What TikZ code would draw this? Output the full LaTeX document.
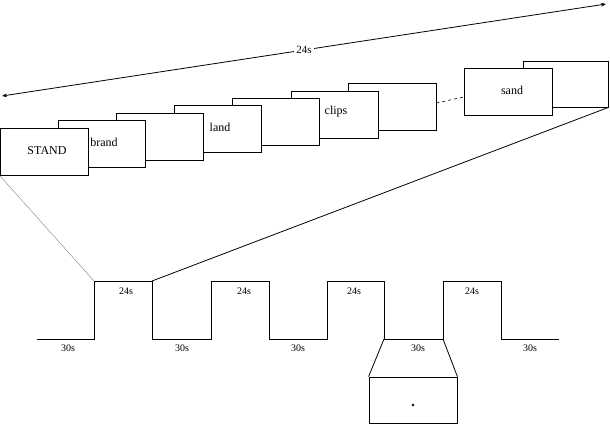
\documentclass[tikz,border=0pt]{standalone}
\usepackage{fontspec}
\setmainfont{Liberation Serif}
\usetikzlibrary{arrows.meta}
\tikzset{
    card/.style={draw, fill=white, line width=0.8pt, minimum width=87pt,
        minimum height=47pt, inner sep=0pt},
    word/.style={font=\fontsize{12}{14}\selectfont, inner sep=0pt},
    dur/.style={font=\fontsize{10}{12}\selectfont, inner sep=0pt},
}
\begin{document}
\begin{tikzpicture}[x=1pt, y=-1pt, line width=0.8pt]
        \useasboundingbox (0,0) rectangle (610,424);
        % stack of word cards, back to front
        \node[card, minimum width=85pt, minimum height=46pt] (c9) at (565.5,84) {};
        \node[card, minimum width=88pt] (c8) at (508,91.5) {};
        \node[card, minimum width=88pt] (c7) at (392,106.5) {};
        \node[card] (c6) at (334.5,114.5) {};
        \node[card] (c5) at (275.5,121.5) {};
        \node[card] (c4) at (217.5,128.5) {};
        \node[card] (c3) at (159.5,136.5) {};
        \node[card] (c2) at (101.5,143.5) {};
        \node[card, minimum width=88pt] (c1) at (44,151.5) {};
        \node[word] (stand) at (47,151) {STAND};
        \node[word] (brand) at (104,142) {brand};
        \node[word] (land) at (220,127) {land};
        \node[word] (clips) at (336,112) {clips};
        \node[word] (sand) at (512,90) {sand};
        \draw[dashed, line width=0.6pt] (c7.east |- 0,103) -- (c8.west |- 0,97);
        % total duration
        \coordinate (tl) at (2,96);
        \coordinate (tr) at (606,4);
        \draw[{Stealth[length=5pt]}-{Stealth[length=5pt]}] (tl) --
        node[fill=white, inner sep=2pt, font=\fontsize{11}{13}\selectfont]
        (total) {24s} (tr);
        % block design time line
        \coordinate (r1) at (94,281);
        \coordinate (f1) at (152,281);
        \coordinate (f3) at (384,339);
        \coordinate (r4) at (443,339);
        \draw (37,339) -- (94,339) -- (r1) -- (f1) -- (152,339) -- (211,339)
        -- (211,281) -- (269,281) -- (269,339) -- (327,339) -- (327,281)
        -- (384,281) -- (f3) -- (r4) -- (443,281) -- (501,281)
        -- (501,339) -- (559,339);
        \foreach \x in {126,244,354,472}
            \node[dur] at (\x,291) {24s};
        \foreach \x in {68,182,298,418,530}
            \node[dur] at (\x,348) {30s};
        % zoom lines
        \draw[line width=0.4pt, gray] (c1.south west) -- (r1);
        \draw (f1) -- (c9.south east);
        % fixation screen
        \node[draw, minimum width=88pt, minimum height=46pt, inner sep=0pt]
        (fix) at (413,400) {};
        \fill (fix.center) ++(0,5) circle (1.3pt) coordinate (dot);
        \draw (f3) -- (fix.north west);
        \draw (r4) -- (fix.north east);
    \end{tikzpicture}
\end{document}
